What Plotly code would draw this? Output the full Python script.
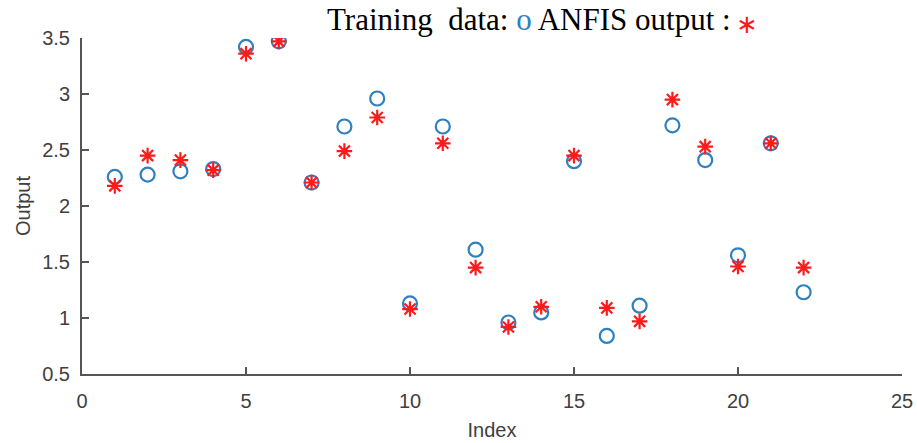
import plotly.graph_objects as go

index = list(range(1, 23))
training_data = [2.26, 2.28, 2.31, 2.33, 3.42, 3.47, 2.21, 2.71, 2.96, 1.13, 2.71,
                 1.61, 0.96, 1.05, 2.40, 0.84, 1.11, 2.72, 2.41, 1.56, 2.56, 1.23]
anfis_output = [2.18, 2.45, 2.41, 2.32, 3.36, 3.47, 2.21, 2.49, 2.79, 1.08, 2.56,
                1.45, 0.92, 1.10, 2.45, 1.09, 0.97, 2.95, 2.53, 1.46, 2.56, 1.45]
x_ticks = [0, 5, 10, 15, 20, 25]
y_ticks = [0.5, 1, 1.5, 2, 2.5, 3, 3.5]
y_tick_text = ["0.5", "1", "1.5", "2", "2.5", "3", "3.5"]

blue = "#2f80c0"
red = "#ff1a1a"
axis_col = "#555555"
txt_col = "#404040"

fig = go.Figure()
fig.add_trace(go.Scatter(
    x=index, y=training_data, mode="markers", name="Training data",
    marker=dict(symbol="circle-open", size=14, color=blue, line=dict(width=2.2, color=blue)),
))
fig.add_trace(go.Scatter(
    x=index, y=anfis_output, mode="markers", name="ANFIS output",
    marker=dict(symbol="asterisk-open", size=13, color=red, line=dict(width=2.2, color=red)),
))

fig.update_layout(
    width=917, height=443,
    margin=dict(l=82, r=15, t=38, b=69),
    paper_bgcolor="white", plot_bgcolor="white",
    showlegend=False,
    font=dict(family="Liberation Sans, Arial", size=20, color=txt_col),
)
fig.update_xaxes(
    range=[0, 25], tickvals=x_ticks, ticks="inside", ticklen=7, tickwidth=1.5,
    tickcolor=axis_col, showline=True, linecolor=axis_col, linewidth=2,
    showgrid=False, zeroline=False, ticklabelstandoff=8, automargin=False,
    title=dict(text="Index", standoff=12, font=dict(size=20, color=txt_col)),
)
fig.update_yaxes(
    range=[0.5, 3.5], tickvals=y_ticks, ticktext=y_tick_text, ticks="inside", ticklen=7,
    tickwidth=1.5, tickcolor=axis_col, showline=True, linecolor=axis_col, linewidth=2,
    showgrid=False, zeroline=False, ticklabelstandoff=6, automargin=False,
    title=dict(text="Output", standoff=6, font=dict(size=20, color=txt_col)),
)
fig.add_annotation(
    xref="paper", yref="paper", x=0.2963, y=1.0565, xanchor="left", yanchor="middle",
    showarrow=False,
    text=("Training  data: <span style='color:%s'>o</span> ANFIS output :") % blue,
    font=dict(family="Liberation Serif, Times New Roman", size=31, color="black"),
)
fig.add_annotation(
    xref="paper", yref="paper", x=0.811, y=0.9896, xanchor="center", yanchor="bottom",
    showarrow=False, text="∗",
    font=dict(family="DejaVu Sans", size=26, color=red),
)
fig.write_html("out.html", config={"displayModeBar": False},
               post_script="document.body.style.margin='0';")
